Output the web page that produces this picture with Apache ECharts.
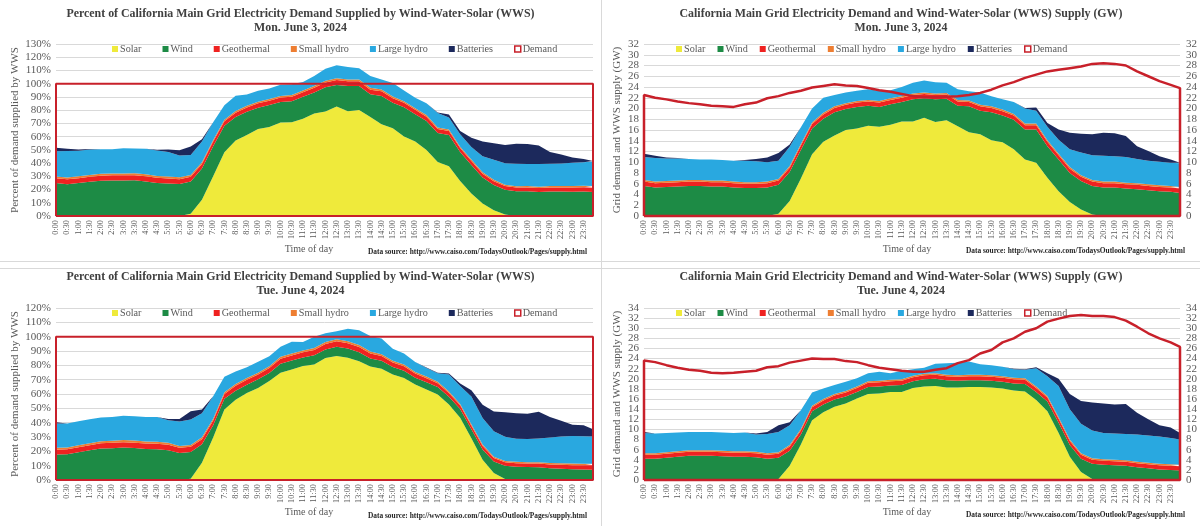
<!DOCTYPE html>
<html lang="en">
<head>
<meta charset="UTF-8">
<title>California Main Grid WWS supply</title>
<script src="https://cdn.jsdelivr.net/npm/echarts@6/dist/echarts.min.js"></script>
<style>
  body { margin: 0; background: #fff; width: 1200px; height: 526px; position: relative; overflow: hidden; }
  .chart { position: absolute; }
  .rule { position: absolute; background: #d9d9d9; }
</style>
</head>
<body>
<div class="chart" id="c1" style="left:0;top:0;width:601px;height:262px;"></div>
<div class="chart" id="c2" style="left:602px;top:0;width:598px;height:262px;"></div>
<div class="chart" id="c3" style="left:0;top:263px;width:601px;height:263px;"></div>
<div class="chart" id="c4" style="left:602px;top:263px;width:598px;height:263px;"></div>
<div class="rule" style="left:601px;top:0;width:1px;height:526px;"></div>
<div class="rule" style="left:0;top:261px;width:1200px;height:1px;"></div>
<div class="rule" style="left:0;top:268px;width:1200px;height:1px;"></div>
<script>
// half-hourly readings, last point is the end of the day (23:55)
var timeLabels = ['0:00','0:30','1:00','1:30','2:00','2:30','3:00','3:30','4:00','4:30','5:00','5:30',
  '6:00','6:30','7:00','7:30','8:00','8:30','9:00','9:30','10:00','10:30','11:00','11:30',
  '12:00','12:30','13:00','13:30','14:00','14:30','15:00','15:30','16:00','16:30','17:00','17:30',
  '18:00','18:30','19:00','19:30','20:00','20:30','21:00','21:30','22:00','22:30','23:00','23:30'];
var minutes = [0,30,60,90,120,150,180,210,240,270,300,330,360,390,420,450,480,510,540,570,600,630,660,690,
  720,750,780,810,840,870,900,930,960,990,1020,1050,1080,1110,1140,1170,1200,1230,1260,1290,1320,1350,1380,1410,1435];

var names = ['Solar','Wind','Geothermal','Small hydro','Large hydro','Batteries'];
var colors = ['#EFEA3B','#1D8B45','#EF2220','#EE7E32','#29A8E0','#1C295C'];
var demandColor = '#C8202A';

// Mon. June 3, 2024 (GW)
var monSolar = [0,0,0,0,0,0,0,0,0,0,0,0,0.4,2.8,7.0,11.5,13.8,15.0,16.0,16.3,16.8,16.6,17.0,17.6,
  17.6,18.3,17.5,17.8,16.7,15.6,15.2,14.1,13.7,12.4,10.5,9.9,7.1,4.6,2.6,1.2,0.3,0,0,0,0,0,0,0,0];
var monWind = [5.6,5.3,5.4,5.5,5.6,5.6,5.5,5.5,5.3,5.2,5.2,5.3,5.4,5.4,5.3,4.8,4.3,4.3,3.9,4.0,3.7,3.7,3.8,3.6,
  4.1,3.6,4.2,4.0,3.8,4.8,4.4,5.2,5.0,5.5,5.6,6.2,5.9,5.9,5.4,5.3,5.3,5.3,5.3,5.1,5.0,4.8,4.6,4.5,4.3];
var monGeo = [0.8,0.8,0.8,0.8,0.8,0.8,0.8,0.8,0.8,0.8,0.8,0.8,0.8,0.8,0.8,0.8,0.8,0.8,0.8,0.8,0.8,0.8,0.8,0.8,
  0.8,0.8,0.8,0.8,0.8,0.8,0.8,0.8,0.8,0.8,0.8,0.8,0.8,0.8,0.8,0.8,0.8,0.8,0.8,0.8,0.8,0.8,0.8,0.8,0.8];
var monSmall = [0.3,0.3,0.3,0.3,0.3,0.3,0.3,0.3,0.3,0.3,0.3,0.3,0.3,0.3,0.3,0.3,0.3,0.3,0.3,0.3,0.3,0.3,0.3,0.3,
  0.3,0.3,0.3,0.3,0.3,0.3,0.3,0.3,0.3,0.3,0.3,0.3,0.3,0.3,0.3,0.3,0.3,0.3,0.3,0.3,0.3,0.3,0.3,0.3,0.3];
var monLarge = [4.3,4.4,4.2,4.1,3.9,3.8,3.9,3.8,3.9,4.0,3.9,3.6,3.4,3.6,3.1,2.6,2.8,2.1,2.0,1.9,2.0,1.9,1.5,1.7,
  2.0,2.2,2.1,1.9,2.0,1.7,2.3,1.9,1.9,2.2,2.8,2.4,2.5,2.6,3.3,4.2,4.6,4.8,4.7,4.8,4.5,4.4,4.4,4.3,4.4];
var monBatt = [0.6,0.4,0.2,0.1,0,0,0,0,0,0.1,0.4,0.9,1.4,0.4,0,0,0,0,0,0,0,0,0,0,
  0,0,0,0,0,0,0,0,0,0,0.1,0.6,0.7,1.9,3.1,3.5,3.9,4.3,4.3,3.9,2.4,1.8,1.0,0.6,0.1];
var monDemand = [22.5,22.0,21.7,21.3,21.0,20.8,20.5,20.4,20.3,20.8,21.1,21.9,22.3,22.9,23.3,23.9,24.2,24.5,24.3,24.2,23.8,23.4,23.1,22.7,
  22.3,22.1,22.1,22.2,22.3,22.5,22.9,23.5,24.3,24.9,25.7,26.3,26.9,27.2,27.5,27.8,28.3,28.4,28.3,28.0,26.9,26.0,25.1,24.4,23.8];

// Tue. June 4, 2024 (GW)
var tueSolar = [0,0,0,0,0,0,0,0,0,0,0,0,0.2,2.8,7.0,11.8,13.4,14.5,15.1,16.1,17.0,17.1,17.4,17.4,
  18.2,18.5,18.6,18.3,18.3,18.4,18.4,18.3,18.1,17.7,17.5,15.8,13.6,9.3,4.6,1.6,0.2,0,0,0,0,0,0,0,0];
var tueWind = [4.2,4.2,4.4,4.6,4.8,4.8,4.8,4.7,4.6,4.6,4.5,4.2,4.2,3.0,2.0,1.8,1.5,1.4,1.4,1.3,1.4,1.4,1.3,1.4,
  1.3,1.4,1.4,1.4,1.3,1.3,1.3,1.3,1.3,1.4,1.5,1.6,1.9,2.0,2.3,2.6,3.0,3.0,2.9,2.8,2.5,2.3,2.1,2.0,1.9];
var tueGeo = [0.8,0.8,0.8,0.8,0.8,0.8,0.8,0.8,0.8,0.8,0.8,0.8,0.8,0.8,0.8,0.8,0.8,0.8,0.8,0.8,0.8,0.8,0.8,0.8,
  0.8,0.8,0.8,0.8,0.8,0.8,0.8,0.8,0.8,0.8,0.8,0.8,0.8,0.8,0.8,0.8,0.8,0.8,0.8,0.8,0.8,0.8,0.8,0.8,0.8];
var tueSmall = [0.3,0.3,0.3,0.3,0.3,0.3,0.3,0.3,0.3,0.3,0.3,0.3,0.3,0.3,0.3,0.3,0.3,0.3,0.3,0.3,0.3,0.3,0.3,0.3,
  0.3,0.3,0.3,0.3,0.3,0.3,0.3,0.3,0.3,0.3,0.3,0.3,0.3,0.3,0.3,0.3,0.3,0.3,0.3,0.3,0.3,0.3,0.3,0.3,0.3];
var tueLarge = [4.0,3.9,3.8,3.7,3.6,3.6,3.6,3.6,3.6,3.7,3.4,3.8,4.0,3.9,3.7,2.6,2.1,1.8,1.8,1.6,1.6,1.8,1.3,1.7,
  1.3,1.2,1.9,2.3,2.5,2.6,2.1,2.0,1.9,1.7,1.7,3.6,3.9,6.2,6.0,5.8,5.5,5.2,5.2,5.2,5.4,5.4,5.4,5.2,5.0];
var tueBatt = [0.2,0,0,0,0,0,0,0,0,0,0.2,0.4,1.3,0.6,0,0,0,0,0,0,0,0,0,0,
  0,0,0,0,0,0,0,0,0,0.1,0.1,0.2,0.6,1.4,3.0,4.5,5.5,5.8,5.7,5.9,4.3,3.2,2.2,2.1,1.3];
var tueDemand = [23.6,23.3,22.7,22.2,21.8,21.6,21.2,21.1,21.2,21.4,21.6,22.3,22.5,23.2,23.6,24.0,23.9,23.9,23.5,23.3,22.7,22.2,21.9,21.6,
  21.4,21.4,21.8,22.1,23.1,23.7,25.0,25.7,27.2,28.0,29.3,30.0,31.3,31.9,32.4,32.6,32.4,32.4,32.2,31.5,30.3,29.0,28.0,27.2,26.3];

var serif = '"Liberation Serif", "Times New Roman", serif';
var grey = '#595959';

function toPercent(vals, demand) {
  return vals.map(function (v, i) { return v / demand[i] * 100; });
}

// one y axis; `keep` picks which tick labels this copy prints
function yAxisPart(cfg, position, keep, main) {
  return {
    type: 'value', position: position, min: 0, max: cfg.ymax, interval: cfg.percent ? 10 : 2,
    name: main ? cfg.yname : '', nameLocation: 'middle', nameGap: cfg.nameGap, nameMoveOverlap: false,
    nameTextStyle: { fontFamily: serif, fontSize: 11, color: grey },
    axisLine: { show: false }, axisTick: { show: false },
    axisLabel: {
      fontFamily: serif, fontSize: 11, color: grey, margin: position === 'left' ? 5 : 6,
      formatter: function (v) {
        if (!keep(v)) return '';
        return cfg.percent ? v + '%' : String(v);
      }
    },
    splitLine: { show: main, lineStyle: { color: '#d9d9d9', width: 1 } }
  };
}

function buildOption(cfg) {
  var sources = cfg.sources;
  var demand = cfg.demand;
  if (cfg.percent) {
    sources = sources.map(function (s) { return toPercent(s, cfg.demand); });
    demand = toPercent(cfg.demand, cfg.demand);
  }
  // value first so the stack runs on y (x is a value axis too)
  var series = sources.map(function (vals, k) {
    return {
      name: names[k], type: 'line', stack: 'wws', symbol: 'none', smooth: false,
      encode: { x: 1, y: 0 },
      lineStyle: { width: 0 }, itemStyle: { color: colors[k] },
      areaStyle: { color: colors[k], opacity: 1 },
      emphasis: { disabled: true },
      data: minutes.map(function (m, i) { return [vals[i], m]; })
    };
  });
  // demand drawn as an outline down to zero at both ends, like the source chart
  var outline = [[minutes[0], 0]]
    .concat(minutes.map(function (m, i) { return [m, demand[i]]; }))
    .concat([[minutes[minutes.length - 1], 0], [minutes[0], 0]]);
  series.push({
    name: 'Demand', type: 'line', symbol: 'none', clip: false, z: 5,
    lineStyle: { color: demandColor, width: cfg.percent ? 2 : 2.5 },
    itemStyle: { color: '#fff', borderColor: demandColor },
    emphasis: { disabled: true },
    data: outline
  });

  var legendData = names.map(function (n) { return { name: n, icon: 'rect' }; });
  legendData.push({ name: 'Demand', icon: 'rect', itemStyle: { color: '#fff', borderColor: demandColor, borderWidth: 1.5 } });

  var all = function () { return true; };
  var by4 = function (v) { return v % 4 === 0; };
  var odd2 = function (v) { return v % 4 !== 0; };
  var yAxes;
  if (cfg.percent) {
    yAxes = [yAxisPart(cfg, 'left', all, true)];
  } else {
    // GW labels sit 2 apart and are close together, so each side is split in two copies
    yAxes = [yAxisPart(cfg, 'left', by4, true), yAxisPart(cfg, 'left', odd2, false),
             yAxisPart(cfg, 'right', by4, false), yAxisPart(cfg, 'right', odd2, false)];
  }

  return {
    animation: false,
    textStyle: { fontFamily: serif },
    title: {
      text: cfg.title + '\n' + cfg.date, left: 'center', top: cfg.titleTop,
      textStyle: { fontFamily: serif, fontSize: 11.9, fontWeight: 'bold', color: '#404040', lineHeight: 14 }
    },
    legend: {
      data: legendData, left: cfg.legendLeft, top: cfg.legendTop, itemGap: cfg.legendGap,
      itemWidth: 6, itemHeight: 6, selectedMode: false, padding: 0,
      textStyle: { fontFamily: serif, fontSize: 10.2, color: grey, padding: [0, 0, 0, -3] }
    },
    grid: { left: cfg.grid[0], top: cfg.grid[1], width: cfg.grid[2], height: cfg.grid[3],
      containLabel: false, outerBoundsMode: 'none' },
    xAxis: {
      type: 'value', min: 0, max: 1435, interval: 30,
      axisLine: { show: true, lineStyle: { color: '#d9d9d9' } }, axisTick: { show: false },
      splitLine: { show: false }, showMaxLabel: false,
      axisLabel: {
        rotate: 90, fontFamily: serif, fontSize: 8.3, color: grey, margin: 4,
        formatter: function (v) {
          var k = v / 30;
          return (k === Math.floor(k) && k < timeLabels.length) ? timeLabels[k] : '';
        }
      }
    },
    yAxis: yAxes,
    graphic: [
      { type: 'text', x: cfg.xname[0], y: cfg.xname[1],
        style: { text: 'Time of day', align: 'center', verticalAlign: 'middle',
          fontFamily: serif, fontSize: 10, fill: grey } },
      { type: 'text', x: cfg.source[0], y: cfg.source[1],
        style: { text: 'Data source: http://www.caiso.com/TodaysOutlook/Pages/supply.html',
          align: 'right', verticalAlign: 'middle', fontFamily: serif, fontSize: 7.4,
          fontWeight: 'bold', fill: '#262626' } }
    ],
    series: series
  };
}

var pctTitle = 'Percent of California Main Grid Electricity Demand Supplied by Wind-Water-Solar (WWS)';
var gwTitle = 'California Main Grid Electricity Demand and Wind-Water-Solar (WWS) Supply (GW)';
var pctName = 'Percent of demand supplied by WWS';
var gwName = 'Grid demand and WWS supply (GW)';
var monSources = [monSolar, monWind, monGeo, monSmall, monLarge, monBatt];
var tueSources = [tueSolar, tueWind, tueGeo, tueSmall, tueLarge, tueBatt];

var configs = [
  { id: 'c1', percent: true, title: pctTitle, date: 'Mon. June 3, 2024', sources: monSources, demand: monDemand,
    ymax: 130, yname: pctName, nameGap: 35, titleTop: 2, legendLeft: 112, legendTop: 44, legendGap: 21,
    grid: [56, 44, 537, 172], xname: [309, 249], source: [587, 252] },
  { id: 'c2', percent: false, title: gwTitle, date: 'Mon. June 3, 2024', sources: monSources, demand: monDemand,
    ymax: 32, yname: gwName, nameGap: 21, titleTop: 2, legendLeft: 74, legendTop: 44, legendGap: 12,
    grid: [42, 44, 536, 172], xname: [305, 249], source: [583, 251] },
  { id: 'c3', percent: true, title: pctTitle, date: 'Tue. June 4, 2024', sources: tueSources, demand: tueDemand,
    ymax: 120, yname: pctName, nameGap: 35, titleTop: 2, legendLeft: 112, legendTop: 45, legendGap: 21,
    grid: [56, 45, 537, 172], xname: [309, 249], source: [587, 253] },
  { id: 'c4', percent: false, title: gwTitle, date: 'Tue. June 4, 2024', sources: tueSources, demand: tueDemand,
    ymax: 34, yname: gwName, nameGap: 21, titleTop: 2, legendLeft: 74, legendTop: 45, legendGap: 12,
    grid: [42, 45, 536, 172], xname: [305, 249], source: [583, 252] }
];

configs.forEach(function (cfg) {
  var chart = echarts.init(document.getElementById(cfg.id));
  chart.setOption(buildOption(cfg));
});
</script>
</body>
</html>
